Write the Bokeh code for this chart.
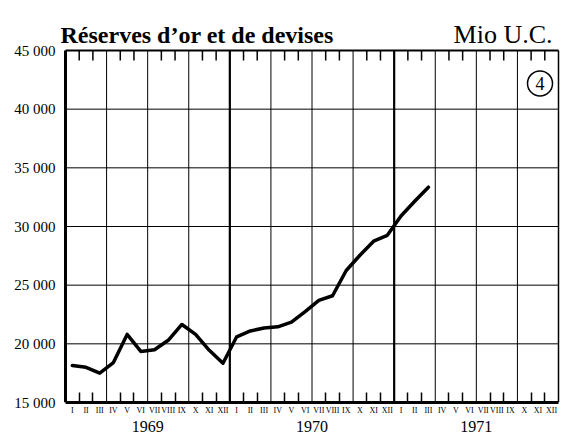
from bokeh.plotting import figure
from bokeh.models import FixedTicker, LinearAxis, Label, Range1d
from bokeh.embed import file_html
from bokeh.resources import INLINE

# ---- data ----
month_labels = ["I", "II", "III", "IV", "V", "VI", "VII", "VIII", "IX", "X", "XI", "XII"]
years = ["1969", "1970", "1971"]
reserves_1969 = [18150, 18000, 17500, 18400, 20800, 19350, 19500, 20300, 21650, 20800, 19450, 18350]
reserves_1970 = [20600, 21100, 21350, 21450, 21850, 22750, 23700, 24100, 26250, 27550, 28750, 29250]
reserves_1971 = [30900, 32150, 33350]
y_ticks = [15000, 20000, 25000, 30000, 35000, 40000, 45000]
title_text = "Réserves d’or et de devises"
unit_text = "Mio U.C."
panel_number = "4"

SERIF = "Liberation Serif"

values = reserves_1969 + reserves_1970 + reserves_1971
n_months = 12 * len(years)
xs = [i + 0.5 for i in range(len(values))]
month_centers = [i + 0.5 for i in range(n_months)]
month_bounds = [m for m in range(1, n_months) if m % 3 != 0]
quarter_bounds = [m for m in range(3, n_months, 3) if m % 12 != 0]
year_bounds = [m for m in range(12, n_months, 12)]
year_centers = [12 * i + 6 for i in range(len(years))]

# ---- layout in pixels ----
W, H = 560, 438
FRAME_L, FRAME_R, FRAME_T, FRAME_B = 60, 560, 14, 402   # frame edges on the page
BOX_L, BOX_R, BOX_T = 65, 558, 50                       # chart box inside the frame
px_x = (BOX_R - BOX_L) / n_months
y0, y1 = y_ticks[0], y_ticks[-1]
px_y = (FRAME_B - BOX_T) / (y1 - y0)
x_start = -(BOX_L - FRAME_L) / px_x
x_end = n_months + (FRAME_R - BOX_R) / px_x
y_end = y1 + (BOX_T - FRAME_T) / px_y
tick_len = 10 / px_y

p = figure(width=W, height=H, output_backend="svg", toolbar_location=None,
           x_range=Range1d(x_start, x_end), y_range=Range1d(y0, y_end),
           min_border_left=FRAME_L, min_border_right=W - FRAME_R,
           min_border_top=FRAME_T, min_border_bottom=H - FRAME_B)
p.background_fill_color = "white"
p.border_fill_color = "white"
p.outline_line_color = None
p.xgrid.visible = False
p.ygrid.visible = False


def vlines(xpos, lo, hi, width):
    p.segment(x0=xpos, y0=[lo] * len(xpos), x1=xpos, y1=[hi] * len(xpos),
              line_color="black", line_width=width)


def hlines(ypos, lo, hi, width):
    p.segment(x0=[lo] * len(ypos), y0=ypos, x1=[hi] * len(ypos), y1=ypos,
              line_color="black", line_width=width)


# chart grid (quarters, years, value levels) and box edges
vlines(quarter_bounds, y0, y1, 1)
vlines(year_bounds, y0, y1, 2.2)
hlines(y_ticks[1:-1], 0, n_months, 1)
vlines([0], y0, y1, 3)
vlines([n_months], y0, y1, 1.5)
hlines([y1], 0, n_months, 2)
# month ticks along the top edge
vlines(month_bounds, y1 - tick_len, y1, 1.5)

# bottom month axis
ax = p.xaxis[0]
ax.ticker = FixedTicker(ticks=month_centers, minor_ticks=month_bounds)
ax.bounds = (0, n_months)
ax.major_label_overrides = {c: month_labels[i % 12] for i, c in enumerate(month_centers)}
ax.major_tick_in = 0
ax.major_tick_out = 0
ax.minor_tick_in = 10
ax.minor_tick_out = 0
ax.minor_tick_line_width = 1.5
ax.minor_tick_line_color = "black"
ax.axis_line_width = 3
ax.axis_line_color = "black"
ax.major_label_standoff = 3
ax.major_label_text_font = SERIF
ax.major_label_text_font_size = "8px"
ax.major_label_text_color = "black"

# year axis below
yr = LinearAxis(ticker=FixedTicker(ticks=year_centers),
                major_label_overrides={c: years[i] for i, c in enumerate(year_centers)},
                axis_line_color=None, major_tick_line_color=None, minor_tick_line_color=None,
                major_label_standoff=-3, major_label_text_font=SERIF,
                major_label_text_font_size="16px", major_label_text_color="black")
p.add_layout(yr, "below")

# left axis
ay = p.yaxis[0]
ay.ticker = FixedTicker(ticks=y_ticks)
ay.major_label_overrides = {v: f"{v // 1000} 000" for v in y_ticks}
ay.major_tick_in = 0
ay.major_tick_out = 0
ay.minor_tick_line_color = None
ay.axis_line_color = None
ay.major_label_standoff = 5
ay.major_label_text_font = SERIF
ay.major_label_text_font_size = "15px"
ay.major_label_text_color = "black"

# data line
p.line(xs, values, line_color="black", line_width=3.5, line_join="round", line_cap="round")

# circled panel number
p.scatter(x=[34.65], y=[42190], marker="circle", size=25, fill_color=None,
          line_color="black", line_width=1.5)
p.add_layout(Label(x=34.65, y=42190, text=panel_number, text_align="center",
                   text_baseline="middle", text_font=SERIF, text_font_size="18px",
                   text_color="black"))

# headings
p.add_layout(Label(x=0, y=y1, x_offset=-5, y_offset=16, text=title_text,
                   text_font=SERIF, text_font_style="bold", text_font_size="24px",
                   text_baseline="alphabetic", text_align="left", text_color="black"))
p.add_layout(Label(x=n_months, y=y1, x_offset=-6, y_offset=16, text=unit_text,
                   text_font=SERIF, text_font_size="26px",
                   text_baseline="alphabetic", text_align="right", text_color="black"))

open("out.html", "w").write(file_html(p, INLINE))
